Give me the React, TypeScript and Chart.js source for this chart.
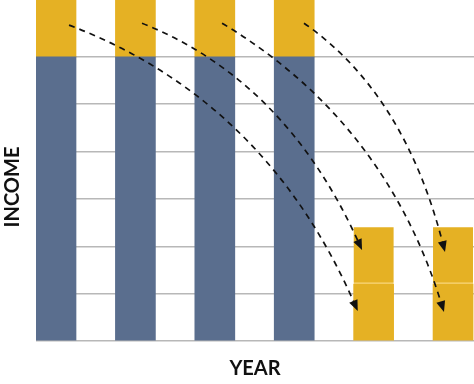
import React, { useEffect, useRef } from "react";
import { Chart, registerables } from "chart.js";

Chart.register(...registerables);

// ---- data ----
const categories = ["Year 1", "Year 2", "Year 3", "Year 4", "Year 5", "Year 6"];
const baseIncome: (number | null)[] = [6, 6, 6, 6, null, null];
const topIncome: (number | null)[] = [1.2, 1.2, 1.2, 1.2, 1.2, 1.2];
const shiftedIncome: (number | null)[] = [null, null, null, null, 1.2, 1.2];
const gridTicks = [0, 1, 2, 3, 4, 5, 6];
const yMax = 7.2;

// arrows (in data units: x = category index, y = income)
const arrowFromX = [0.164, 1.083, 2.091, 3.123];
const arrowFromY = [6.67, 6.71, 6.71, 6.71];
const arrowCtrlX = [2.632, 2.884, 4.143, 4.383];
const arrowCtrlY = [5.1, 5.51, 4.645, 5.24];
const arrowToX = [3.8, 3.854, 4.886, 4.899];
const arrowToY = [0.633, 1.92, 0.612, 1.88];

const xTitle = "YEAR";
const yTitle = "INCOME";

const BLUE = "#5a6e8e";
const GOLD = "#e5b124";

const overlayPlugin = {
  id: "overlay",
  afterDatasetsDraw(chart: any) {
    const { ctx, scales } = chart;
    const xs = scales.x;
    const ys = scales.y;
    ctx.save();
    for (let i = 0; i < arrowFromX.length; i++) {
      const x0 = xs.getPixelForValue(arrowFromX[i]);
      const y0 = ys.getPixelForValue(arrowFromY[i]);
      const cx = xs.getPixelForValue(arrowCtrlX[i]);
      const cy = ys.getPixelForValue(arrowCtrlY[i]);
      const x1 = xs.getPixelForValue(arrowToX[i]);
      const y1 = ys.getPixelForValue(arrowToY[i]);
      const dx = x1 - cx;
      const dy = y1 - cy;
      const len = Math.hypot(dx, dy);
      const ux = dx / len;
      const uy = dy / len;
      const headLen = 11;
      const headHalf = 4.5;
      const bx = x1 - ux * headLen;
      const by = y1 - uy * headLen;
      ctx.beginPath();
      ctx.setLineDash([6, 5]);
      ctx.lineWidth = 1.7;
      ctx.strokeStyle = "#111";
      ctx.moveTo(x0, y0);
      ctx.quadraticCurveTo(cx, cy, bx + ux * 2, by + uy * 2);
      ctx.stroke();
      ctx.setLineDash([]);
      ctx.beginPath();
      ctx.fillStyle = "#111";
      ctx.moveTo(x1, y1);
      ctx.lineTo(bx - uy * headHalf, by + ux * headHalf);
      ctx.lineTo(bx + uy * headHalf, by - ux * headHalf);
      ctx.closePath();
      ctx.fill();
    }
    ctx.restore();
  },
  afterDraw(chart: any) {
    const { ctx, chartArea } = chart;
    ctx.save();
    ctx.fillStyle = "#111";
    ctx.font = "bold 20px Lato, 'Open Sans', sans-serif";
    ctx.textAlign = "center";
    ctx.textBaseline = "middle";
    ctx.fillText(xTitle, (chartArea.left + chartArea.right) / 2, 369);
    ctx.translate(13, 187);
    ctx.rotate(-Math.PI / 2);
    ctx.fillText(yTitle, 0, 0);
    ctx.restore();
  },
};

export default function App() {
  const ref = useRef<HTMLCanvasElement | null>(null);
  useEffect(() => {
    if (!ref.current) return;
    const toPts = (arr: (number | null)[]) =>
      categories.map((_, i) => ({ x: i, y: arr[i] }));
    const chart = new Chart(ref.current, {
      type: "bar",
      data: {
        datasets: [
          {
            label: "Income",
            data: toPts(baseIncome) as any,
            backgroundColor: BLUE,
            barThickness: 40,
            borderWidth: 0,
          },
          {
            label: "Top income",
            data: toPts(topIncome) as any,
            backgroundColor: GOLD,
            barThickness: 40,
            borderWidth: 0,
          },
          {
            label: "Shifted income",
            data: toPts(shiftedIncome) as any,
            backgroundColor: GOLD,
            barThickness: 40,
            borderColor: "#f8d77c",
            borderWidth: { top: 0, left: 0, right: 0, bottom: 2 } as any,
            borderSkipped: false,
          },
        ],
      },
      options: {
        responsive: false,
        animation: false,
        layout: { padding: { left: 36, top: 0, right: 0, bottom: 43 } },
        plugins: { legend: { display: false }, tooltip: { enabled: false } },
        scales: {
          x: {
            type: "linear",
            display: false,
            stacked: true,
            offset: false,
            min: -0.252,
            max: 5.264,
          },
          y: {
            stacked: true,
            min: 0,
            max: yMax,
            afterBuildTicks: (scale: any) => {
              scale.ticks = gridTicks.map((v) => ({ value: v }));
            },
            ticks: { display: false },
            border: { display: false },
            grid: { color: "#b8b8b8", lineWidth: 1.5, drawTicks: false },
          },
        },
      },
      plugins: [overlayPlugin],
    });
    (document as any).fonts?.load?.("bold 20px Lato").then(() => chart.draw());
    return () => chart.destroy();
  }, []);
  return (
    <div style={{ position: "fixed", left: 0, top: 0, width: 474, height: 384, background: "#fff" }}>
      <canvas ref={ref} width={474} height={384} style={{ display: "block" }} />
    </div>
  );
}
